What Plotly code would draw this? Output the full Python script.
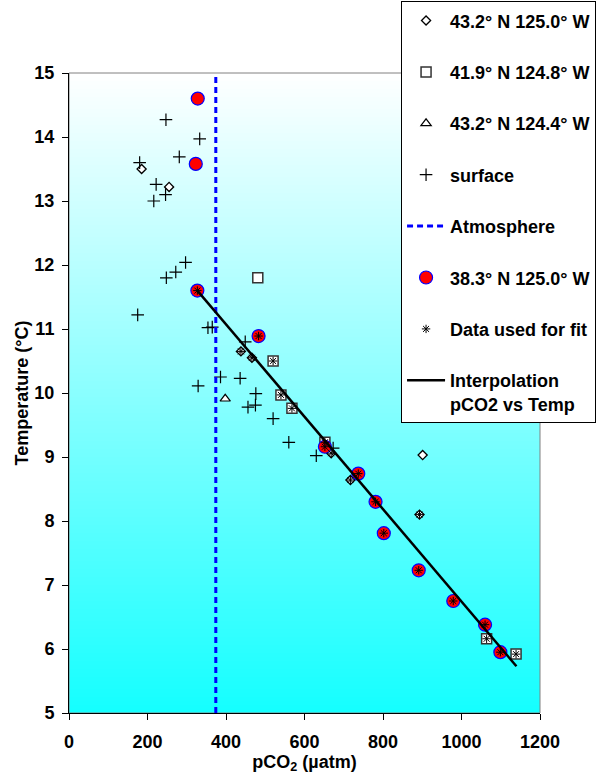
import plotly.graph_objects as go

# ---- data ----
diam_x = [185, 255, 438, 466, 668, 717, 893, 901]
diam_y = [13.50, 13.22, 10.65, 10.55, 9.06, 8.64, 8.10, 9.03]

sq_x = [481, 520, 540, 568, 652, 1064, 1139]
sq_y = [11.80, 10.50, 9.97, 9.76, 9.23, 6.16, 5.92]

tri_x = [398]
tri_y = [9.91]

surf_x = [247, 333, 281, 180, 222, 246, 216, 297, 272, 248, 175, 354, 365,
          449, 386, 436, 329, 476, 456, 475, 520, 560, 630, 673]
surf_y = [14.27, 13.97, 13.69, 13.60, 13.26, 13.10, 13.00, 12.04, 11.89, 11.80,
          11.22, 11.02, 11.03, 10.80, 10.25, 10.23, 10.11, 9.99, 9.78, 9.81,
          9.60, 9.23, 9.02, 9.14]

atm_x = [374, 374]
atm_y = [5, 15]

red_x = [328, 323, 327, 483, 652, 737, 781, 802, 891, 979, 1060, 1099]
red_y = [14.60, 13.58, 11.60, 10.89, 9.16, 8.74, 8.30, 7.81, 7.23, 6.75, 6.38, 5.95]

# points used for the fit (subset of the station data)
fit_x = red_x[2:] + diam_x[2:7] + sq_x[1:]
fit_y = red_y[2:] + diam_y[2:7] + sq_y[1:]

interp_x = [327, 1140]
interp_y = [11.60, 5.73]

x_ticks = [0, 200, 400, 600, 800, 1000, 1200]
y_ticks = [5, 6, 7, 8, 9, 10, 11, 12, 13, 14, 15]

FONT = "Liberation Sans, Arial, sans-serif"

fig = go.Figure()

fig.add_trace(go.Scatter(x=diam_x, y=diam_y, mode="markers", name="43.2° N 125.0° W",
                         legendgroup="g1",
                         marker=dict(symbol="diamond", size=7, color="white",
                                     line=dict(color="black", width=1.3))))
fig.add_trace(go.Scatter(x=sq_x, y=sq_y, mode="markers", name="41.9° N 124.8° W",
                         legendgroup="g2",
                         marker=dict(symbol="square", size=10, color="white",
                                     line=dict(color="#333333", width=1.5))))
fig.add_trace(go.Scatter(x=tri_x, y=tri_y, mode="markers", name="43.2° N 124.4° W",
                         legendgroup="g3",
                         marker=dict(symbol="triangle-up", size=9, color="white",
                                     line=dict(color="black", width=1.2))))
fig.add_trace(go.Scatter(x=surf_x, y=surf_y, mode="markers", name="surface",
                         legendgroup="g4",
                         marker=dict(symbol="cross-thin-open", size=9, color="black",
                                     line=dict(color="black", width=1.2))))
fig.add_trace(go.Scatter(x=atm_x, y=atm_y, mode="lines", name="Atmosphere",
                         legendgroup="g5",
                         line=dict(color="#0000FF", width=3, dash="6px,4px")))
fig.add_trace(go.Scatter(x=red_x, y=red_y, mode="markers", name="38.3° N 125.0° W",
                         legendgroup="g6",
                         marker=dict(symbol="circle", size=13, color="#FF0000",
                                     line=dict(color="#0000FF", width=1.2))))
fig.add_trace(go.Scatter(x=fit_x, y=fit_y, mode="markers", name="Data used for fit",
                         legendgroup="g7",
                         marker=dict(symbol="asterisk-open", size=7, color="black",
                                     line=dict(color="black", width=1))))
fig.add_trace(go.Scatter(x=interp_x, y=interp_y, mode="lines",
                         name="Interpolation<br>pCO2 vs Temp",
                         legendgroup="g8",
                         line=dict(color="black", width=2.5)))

# vertical white -> cyan gradient background of the plot area
shapes = []
N = 160
top = (255, 255, 255)
bot = (20, 255, 255)
for i in range(N):
    t = (i + 0.5) / N  # 0 at bottom, 1 at top
    c = tuple(int(round(bot[k] + (top[k] - bot[k]) * t)) for k in range(3))
    shapes.append(dict(type="rect", xref="paper", yref="paper",
                       x0=0, x1=1, y0=i / N, y1=min(1, (i + 1) / N + 0.002),
                       fillcolor="rgb(%d,%d,%d)" % c, line=dict(width=0),
                       layer="below"))
shapes.append(dict(type="rect", xref="paper", yref="paper", x0=0, x1=1, y0=0, y1=1,
                   line=dict(color="#808080", width=1), layer="below"))

axis_font = dict(family=FONT, size=18, color="black", weight="bold")

fig.update_layout(
    width=605, height=775,
    margin=dict(l=69, r=65, t=73, b=62, autoexpand=False),
    paper_bgcolor="white",
    plot_bgcolor="white",
    shapes=shapes,
    font=dict(family=FONT, color="black"),
    xaxis=dict(range=[0, 1200], tickvals=x_ticks, ticktext=[str(v) for v in x_ticks],
               showline=True, linecolor="black", linewidth=1,
               ticks="outside", ticklen=6, tickcolor="black",
               tickfont=axis_font, showgrid=False, zeroline=False,
               ticklabelstandoff=6,
               title=dict(text="pCO<sub>2</sub> (µatm)", font=axis_font, standoff=2)),
    yaxis=dict(range=[5, 15], tickvals=y_ticks, ticktext=[str(v) for v in y_ticks],
               showline=True, linecolor="black", linewidth=1,
               ticks="outside", ticklen=6, tickcolor="black",
               tickfont=axis_font, showgrid=False, zeroline=False,
               ticklabelstandoff=4,
               title=dict(text="Temperature (°C)", font=axis_font, standoff=1)),
    legend=dict(x=0.705, y=1.112, xanchor="left", yanchor="top",
                bgcolor="white", bordercolor="black", borderwidth=1,
                font=dict(family=FONT, size=18, color="black", weight="bold"),
                tracegroupgap=25, valign="top", itemsizing="trace",
                itemwidth=38, maxheight=1.0),
    showlegend=True,
)

fig.write_html("out.html")
